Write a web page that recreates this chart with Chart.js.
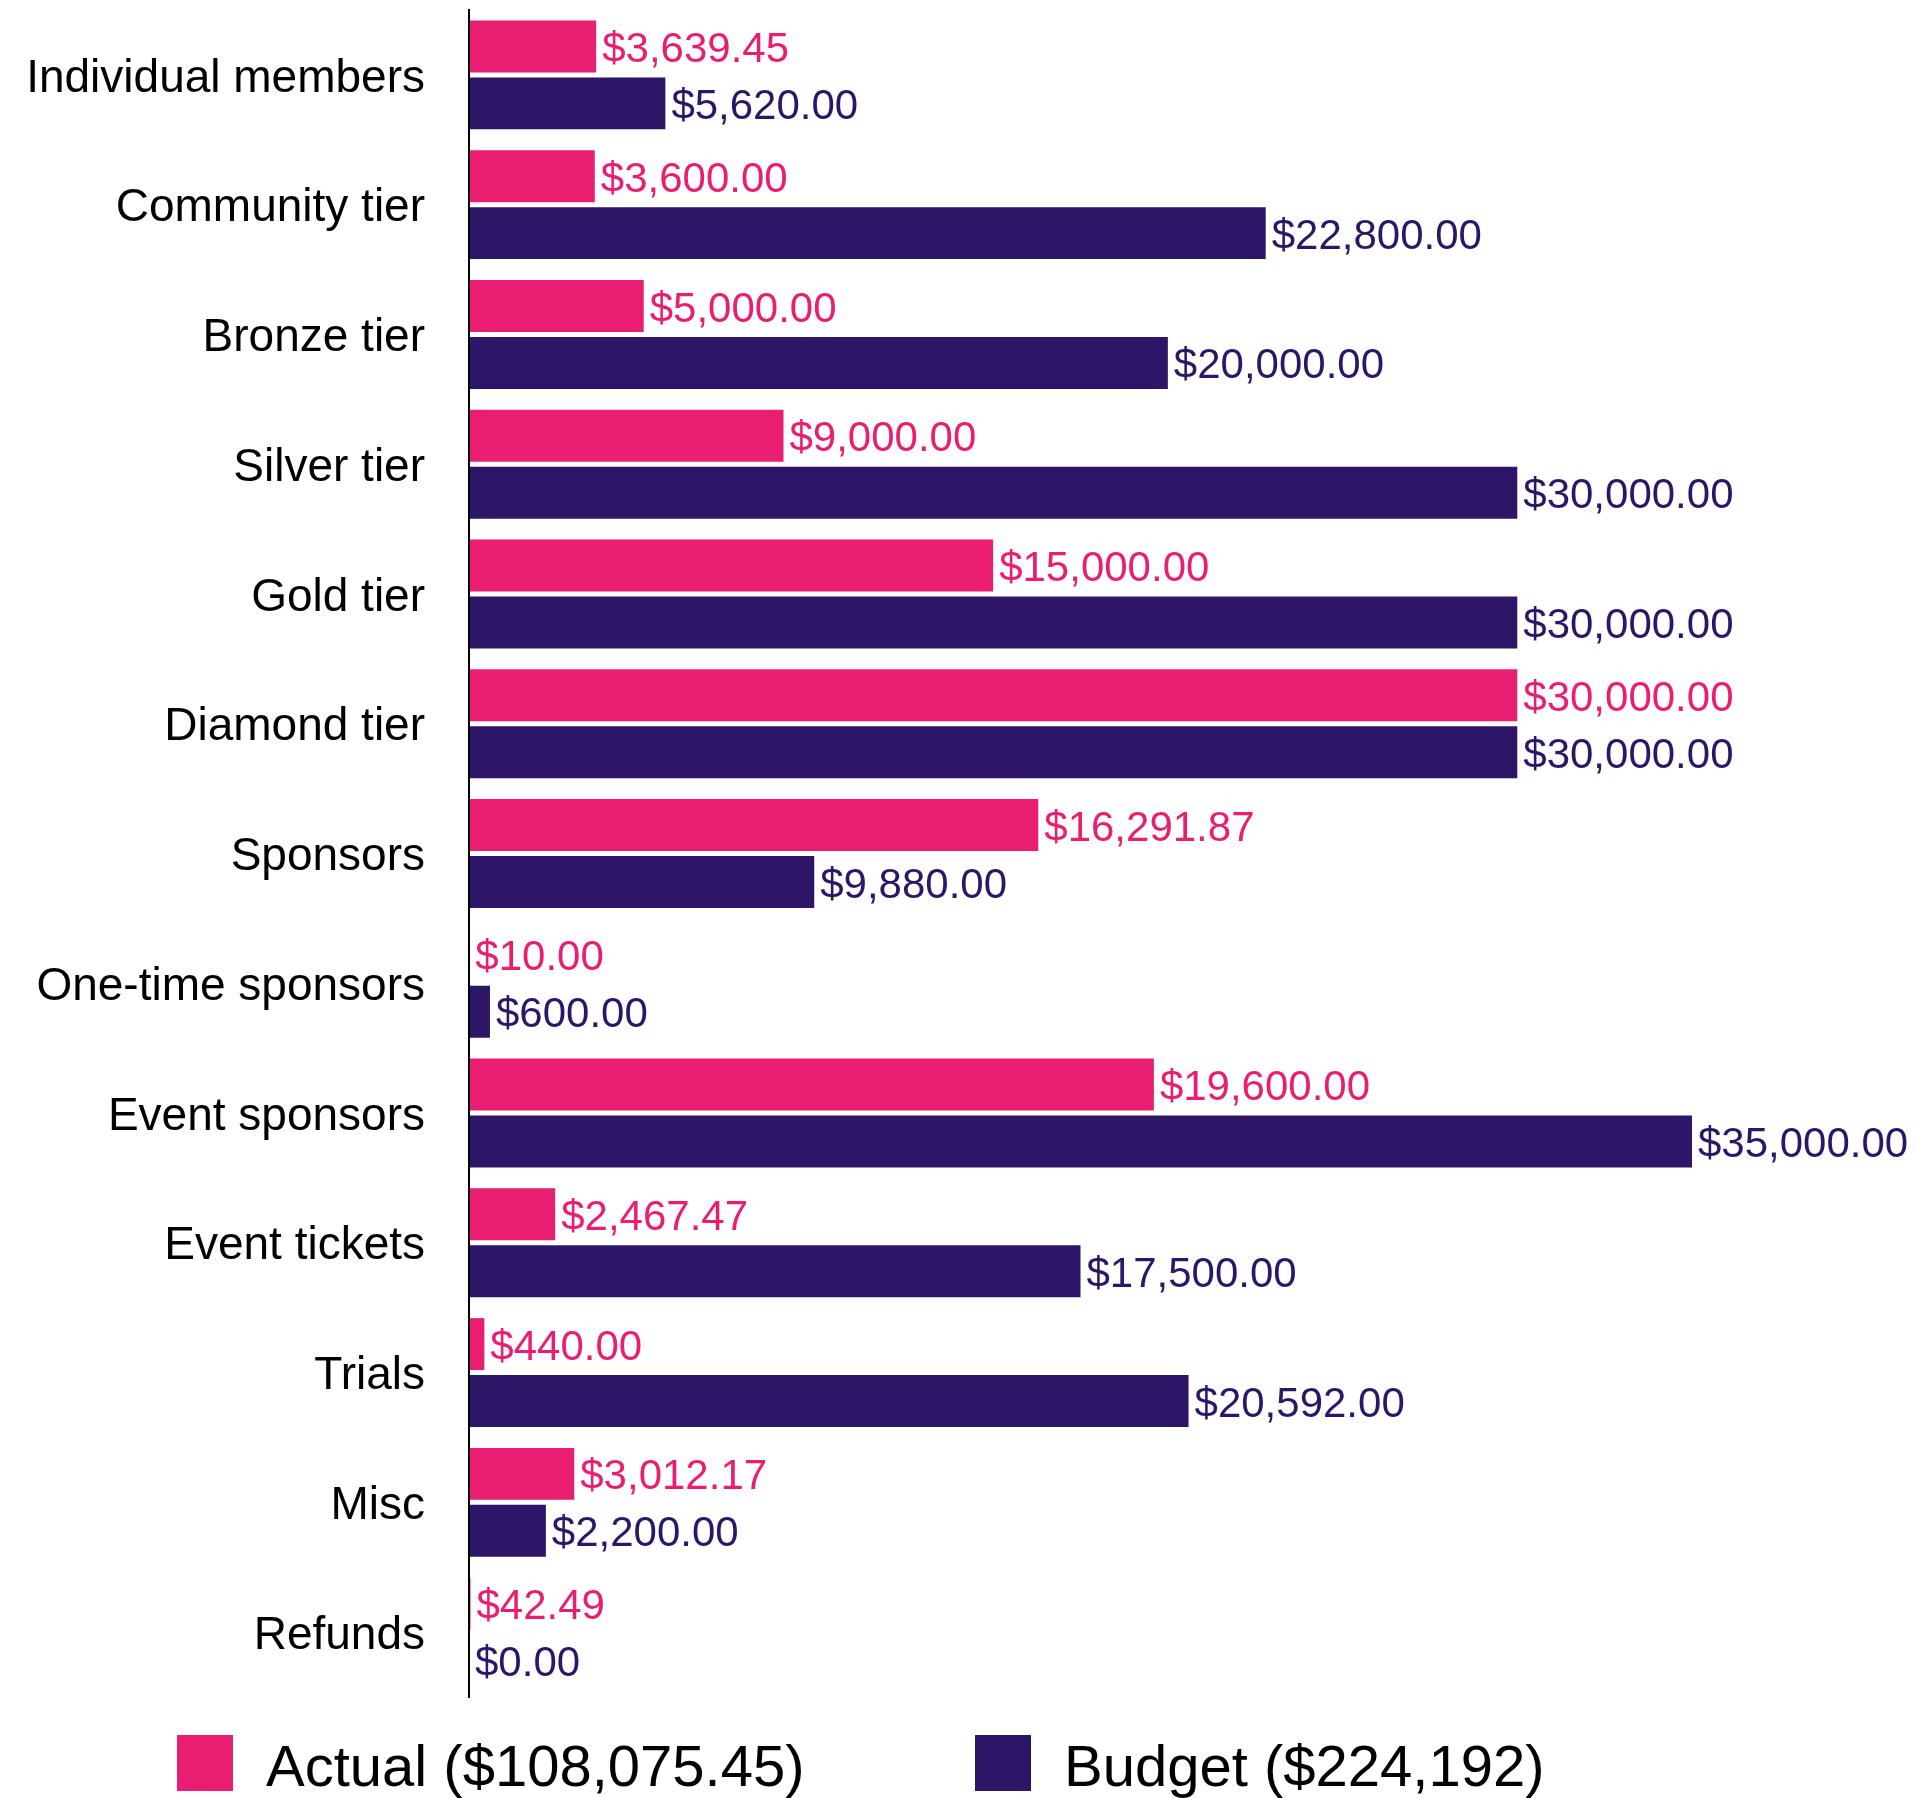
<!DOCTYPE html>
<html>
<head>
<meta charset="utf-8">
<script src="https://cdn.jsdelivr.net/npm/chart.js@4.4.1/dist/chart.umd.min.js"></script>
<style>
  html, body { margin: 0; padding: 0; background: #ffffff; }
  #wrap { position: relative; width: 1915px; height: 1798px; }
</style>
</head>
<body>
<div id="wrap"><canvas id="chart"></canvas></div>
<script>
// Income lines, actual vs budget
const categories = [
  'Individual members', 'Community tier', 'Bronze tier', 'Silver tier',
  'Gold tier', 'Diamond tier', 'Sponsors', 'One-time sponsors',
  'Event sponsors', 'Event tickets', 'Trials', 'Misc', 'Refunds'
];
const actualValues = [3639.45, 3600, 5000, 9000, 15000, 30000, 16291.87, 10, 19600, 2467.47, 440, 3012.17, 42.49];
const budgetValues = [5620, 22800, 20000, 30000, 30000, 30000, 9880, 600, 35000, 17500, 20592, 2200, 0];
const seriesNames = ['Actual ($108,075.45)', 'Budget ($224,192)'];
const seriesColors = ['#E91E73', '#2D1567'];
const axisMax = 35000;

const FONT = '"Liberation Sans", Arial, Helvetica, sans-serif';

function money(v) {
  return '$' + v.toLocaleString('en-US', { minimumFractionDigits: 2, maximumFractionDigits: 2 });
}

// Writes each bar's amount just past its end, in the bar's colour
const valueLabels = {
  id: 'valueLabels',
  afterDraw(chart) {
    const ctx = chart.ctx;
    ctx.save();
    ctx.font = '42px ' + FONT;
    ctx.textAlign = 'left';
    ctx.textBaseline = 'middle';
    chart.data.datasets.forEach((ds, di) => {
      const meta = chart.getDatasetMeta(di);
      ctx.fillStyle = ds.backgroundColor;
      meta.data.forEach((bar, i) => {
        ctx.fillText(money(ds.data[i]), bar.x + 6, bar.y + 4);
      });
    });
    ctx.restore();
  }
};

// Legend row under the plot: coloured square followed by the series name
const legendRow = {
  id: 'legendRow',
  afterDraw(chart, args, opts) {
    const ctx = chart.ctx;
    ctx.save();
    ctx.font = opts.fontSize + 'px ' + FONT;
    ctx.textAlign = 'left';
    ctx.textBaseline = 'alphabetic';
    chart.data.datasets.forEach((ds, i) => {
      const x = opts.starts[i];
      ctx.fillStyle = ds.backgroundColor;
      ctx.fillRect(x, opts.boxTop, opts.boxSize, opts.boxSize);
      ctx.fillStyle = '#000000';
      ctx.fillText(ds.label, x + opts.boxSize + opts.gap, opts.baseline);
    });
    ctx.restore();
  }
};

new Chart(document.getElementById('chart'), {
  type: 'bar',
  data: {
    labels: categories,
    datasets: [
      { label: seriesNames[0], data: actualValues, backgroundColor: seriesColors[0] },
      { label: seriesNames[1], data: budgetValues, backgroundColor: seriesColors[1] }
    ]
  },
  options: {
    indexAxis: 'y',
    responsive: true,
    maintainAspectRatio: false,
    animation: false,
    datasets: { bar: { categoryPercentage: 0.878, barPercentage: 0.912 } },
    layout: { padding: { top: 10, right: 223, bottom: 101, left: 0 } },
    scales: {
      x: { type: 'linear', min: 0, max: axisMax, display: false },
      y: {
        type: 'category',
        grid: { display: false, drawTicks: false },
        border: { display: true, color: '#000000', width: 2, z: 1 },
        ticks: { color: '#000000', padding: 44, labelOffset: 4, font: { family: FONT, size: 46 } },
        afterFit(scale) {
          scale.width = 469;
          scale.paddingTop = 0;
          scale.paddingBottom = 0;
        }
      }
    },
    plugins: {
      legend: { display: false },
      tooltip: { enabled: false },
      legendRow: { starts: [177, 975], boxTop: 1735, boxSize: 56, gap: 33, baseline: 1786, fontSize: 58 }
    }
  },
  plugins: [valueLabels, legendRow]
});
</script>
</body>
</html>
